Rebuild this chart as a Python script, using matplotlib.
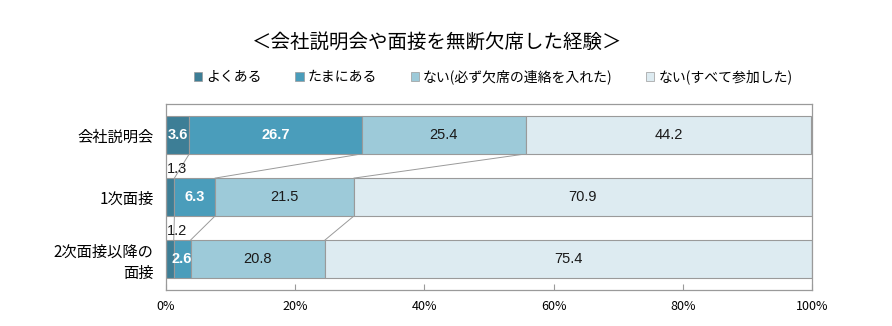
import matplotlib
matplotlib.use("Agg")
import matplotlib.pyplot as plt
import matplotlib.patches as mpatches
import numpy as np

plt.rcParams["font.family"] = ["Noto Sans CJK JP", "DejaVu Sans"]

# 集計データ (%)
categories = ["会社説明会", "1次面接", "2次面接以降の\n面接"]
series_names = ["よくある", "たまにある", "ない(必ず欠席の連絡を入れた)", "ない(すべて参加した)"]
often = [3.6, 1.3, 1.2]
sometimes = [26.7, 6.3, 2.6]
never_notified = [25.4, 21.5, 20.8]
never_all = [44.2, 70.9, 75.4]
xticks = [0, 20, 40, 60, 80, 100]

COLORS = ["#3D7E96", "#4A9DBB", "#9DCAD9", "#DDEBF1"]
TEXT_COLORS = ["white", "white", "#1a1a1a", "#1a1a1a"]
EDGE = "#9A9A9A"
BAR_H = 0.61
NUM_FONT = ["Liberation Sans", "DejaVu Sans"]

values = np.array([often, sometimes, never_notified, never_all])
ypos = np.arange(len(categories))

fig = plt.figure(figsize=(8.92, 3.26), dpi=100)
ax = fig.add_axes([0.1861, 0.1104, 0.7242, 0.5706])

left = np.zeros(len(categories))
for k, name in enumerate(series_names):
    ax.barh(ypos, values[k], left=left, height=BAR_H, color=COLORS[k],
            edgecolor=EDGE, linewidth=0.8, label=name, zorder=2)
    for i, v in enumerate(values[k]):
        if v < 2:
            # 細すぎる区間は棒の上に表示
            ax.text(left[i] + 0.1, i - BAR_H / 2 - 0.03, f"{v}",
                    ha="left", va="bottom", fontsize=10.5, color="#1a1a1a",
                    family=NUM_FONT)
        else:
            ax.text(left[i] + v / 2, i, f"{v}", ha="center", va="center",
                    fontsize=10.5, color=TEXT_COLORS[k], zorder=3,
                    family=NUM_FONT,
                    fontweight="bold" if TEXT_COLORS[k] == "white" else "normal")
    left = left + values[k]

# 区切り線 (上下の棒の累積位置を結ぶ)
cum = np.cumsum(values, axis=0)
for i in range(len(categories) - 1):
    for k in range(len(series_names) - 1):
        ax.plot([cum[k, i], cum[k, i + 1]],
                [i + BAR_H / 2, i + 1 - BAR_H / 2],
                color=EDGE, lw=0.7, zorder=1)

ax.set_xlim(0, 100)
ax.set_ylim(len(categories) - 0.5, -0.5)
ax.set_yticks(ypos)
ax.set_yticklabels(categories, fontsize=11, linespacing=1.3)
ax.set_xticks(xticks)
ax.set_xticklabels([f"{t}%" for t in xticks], fontsize=9)
ax.tick_params(axis="y", length=0, pad=9)
ax.tick_params(axis="x", direction="in", length=4, color=EDGE, pad=7)
for s in ax.spines.values():
    s.set_color(EDGE)
    s.set_linewidth(0.9)
for lab in ax.get_yticklabels():
    lab.set_horizontalalignment("right")
    lab.set_multialignment("right")

fig.text(0.49, 0.871, "＜会社説明会や面接を無断欠席した経験＞",
         ha="center", va="center", fontsize=14)

handles = [mpatches.Patch(facecolor=COLORS[k], edgecolor=EDGE, linewidth=0.5)
           for k in range(len(series_names))]
fig.legend(handles, series_names, loc="center", bbox_to_anchor=(0.553, 0.764),
           ncol=4, frameon=False, fontsize=10, handlelength=0.6,
           handleheight=0.6, handletextpad=0.3, columnspacing=2.4)

fig.savefig("out.png", dpi=100)
